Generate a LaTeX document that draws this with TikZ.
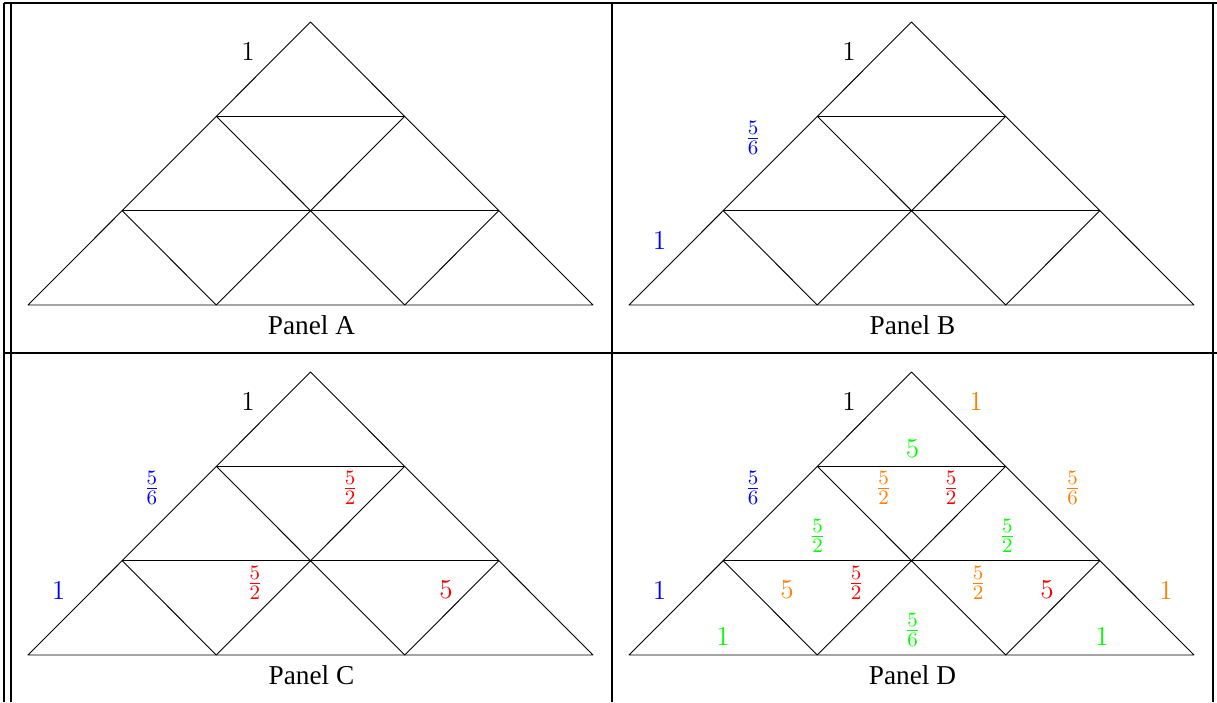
\documentclass[tikz,border=0pt]{standalone}
\usepackage{fontspec}
\newfontfamily\capfont{Liberation Serif}
\usepackage{xcolor}

\begin{document}
\begin{tikzpicture}[
  x=0.44pt, y=-0.44pt,
  rule/.style={line width=1pt},
  edge/.style={line width=0.4pt, line join=round},
  num/.style={font=\fontsize{12}{14}\selectfont, inner sep=0pt},
  frc/.style={font=\fontsize{13}{15}\selectfont, inner sep=0pt},
  caption/.style={font=\capfont\fontsize{12}{14}\selectfont, inner sep=0pt}
]
\useasboundingbox (0,0) rectangle (1217,702);

% Table rules
\draw[rule] (4,3) -- (1217,3);
\draw[rule] (4,353) -- (1217,353);
\draw[rule] (4,3) -- (4,702);
\draw[rule] (11,3) -- (11,702);
\draw[rule] (612,3) -- (612,702);
\draw[rule] (1213,3) -- (1213,702);

% Triangle grids
\foreach \p/\ox/\oy in {A/0/0, B/601/0, C/0/350, D/601/350}{
  \begin{scope}[shift={(\ox,\oy)}]
    \coordinate (\p-t)  at (310.5,22);
    \coordinate (\p-l1) at (216.3,116.3);
    \coordinate (\p-r1) at (404.7,116.3);
    \coordinate (\p-l2) at (122.2,210.7);
    \coordinate (\p-r2) at (498.8,210.7);
    \coordinate (\p-b0) at (28,305);
    \coordinate (\p-b1) at (216.3,305);
    \coordinate (\p-b2) at (404.7,305);
    \coordinate (\p-b3) at (593,305);
    \draw[edge] (\p-b0) -- (\p-t) -- (\p-b3) -- cycle;
    \draw[edge] (\p-l1) -- (\p-r1) (\p-l2) -- (\p-r2);
    \draw[edge] (\p-l1) -- (\p-b2) (\p-r1) -- (\p-b1);
    \draw[edge] (\p-l2) -- (\p-b1) (\p-r2) -- (\p-b2);
    \node[caption] (\p-cap) at (311.5,325) {Panel \p};
  \end{scope}
}

% Panel A
\node[num] (A-k1) at (248,51) {1};

% Panel B
\begin{scope}[shift={(601,0)}]
\node[num] (B-k1) at (248,51) {1};
\node[frc, blue] (B-b56) at (152,138) {$\frac{5}{6}$};
\node[num, blue] (B-b1) at (58.5,240) {1};
\end{scope}

% Panel C
\begin{scope}[shift={(0,350)}]
\node[num] (C-k1) at (248,51) {1};
\node[frc, blue] (C-b56) at (152,138) {$\frac{5}{6}$};
\node[num, blue] (C-b1) at (58.5,240) {1};
\node[frc, red] (C-r52a) at (350,138) {$\frac{5}{2}$};
\node[frc, red] (C-r52b) at (255,233) {$\frac{5}{2}$};
\node[num, red] (C-r5) at (446,240) {5};
\end{scope}

% Panel D
\begin{scope}[shift={(601,350)}]
\node[num] (D-k1) at (248,51) {1};
\node[frc, blue] (D-b56) at (152,138) {$\frac{5}{6}$};
\node[num, blue] (D-b1) at (58.5,240) {1};
\node[frc, red] (D-r52a) at (350,138) {$\frac{5}{2}$};
\node[frc, red] (D-r52b) at (255,233) {$\frac{5}{2}$};
\node[num, red] (D-r5) at (446,240) {5};
\node[num, orange] (D-o1a) at (375,51) {1};
\node[frc, orange] (D-o52a) at (282.5,138) {$\frac{5}{2}$};
\node[frc, orange] (D-o56) at (471.5,138) {$\frac{5}{6}$};
\node[num, orange] (D-o5) at (186,240) {5};
\node[frc, orange] (D-o52b) at (377,233) {$\frac{5}{2}$};
\node[num, orange] (D-o1b) at (565,240) {1};
\node[num, green] (D-g5) at (311.5,99) {5};
\node[frc, green] (D-g52a) at (216.7,185.7) {$\frac{5}{2}$};
\node[frc, green] (D-g52b) at (406.4,185.7) {$\frac{5}{2}$};
\node[num, green] (D-g1a) at (122,286.7) {1};
\node[frc, green] (D-g56) at (311.7,280) {$\frac{5}{6}$};
\node[num, green] (D-g1b) at (501,286.7) {1};
\end{scope}
\end{tikzpicture}
\end{document}
